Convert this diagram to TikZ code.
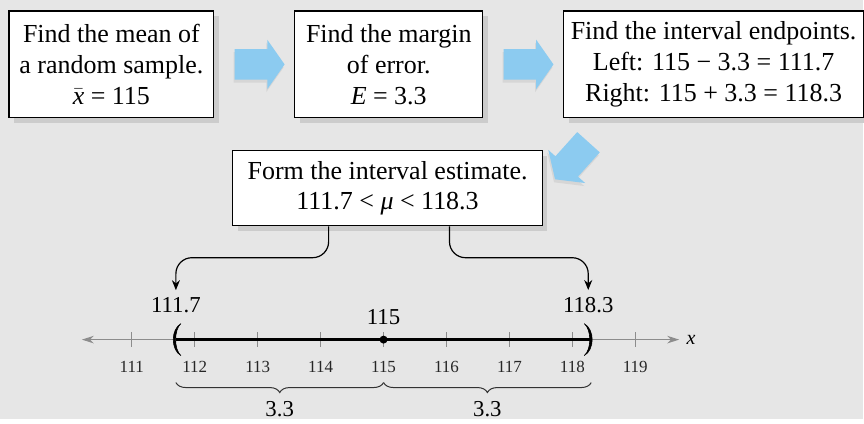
\documentclass[tikz,border=0pt]{standalone}
\usepackage{fontspec}
\setmainfont{Liberation Serif}
\usetikzlibrary{positioning,calc,shapes.arrows,shadows,arrows.meta,decorations.pathreplacing}
\definecolor{arrowblue}{RGB}{140,203,240}
\definecolor{bggray}{RGB}{230,230,230}

\begin{document}
\begin{tikzpicture}[x=0.5pt, y=-0.5pt, every node/.style={font=\fontsize{11.4}{15.5}\selectfont},
    box/.style={draw, fill=white, line width=0.6pt, align=center, inner sep=0pt, font=\fontsize{13}{15.5}\selectfont, drop shadow={shadow xshift=2.5pt, shadow yshift=-2.5pt, fill=black!20, opacity=1}},
    blockarrow/.style={single arrow, fill=arrowblue, inner xsep=0pt, inner ysep=7.4pt, minimum height=25pt, single arrow head extend=4.8pt, single arrow tip angle=110, drop shadow={shadow xshift=-0.5pt, shadow yshift=-1.5pt, fill=black!16, opacity=1}},
    link/.style={-{Stealth[length=5pt, width=4pt]}, line width=0.6pt, rounded corners=8pt},
    axis/.style={{Stealth[length=6pt, width=3.8pt]}-{Stealth[length=6pt, width=3.8pt]}, draw=black!45, line width=0.6pt},
    tick/.style={draw=black!45, line width=0.6pt},
    ticklab/.style={font=\fontsize{8.5}{10}\selectfont, text=black!85},
    paren/.style={fill, draw, line width=0.3pt},
    brace/.style={decorate, decoration={brace, mirror, amplitude=5pt}, draw=black!80, line width=0.5pt}]
  \fill[bggray] (0,0) rectangle (864,419);
  % steps
  \node[box, minimum width=102.5pt, minimum height=53.5pt] (mean) at (111.5,64.5) {Find the mean of\\a random sample.\\\(\bar{\mbox{\textit{x}}}\) = 115};
  \node[box, minimum width=94pt, minimum height=53.5pt, right=40pt of mean] (margin) {Find the margin\\of error.\\\textit{E} = 3.3};
  \node[box, minimum width=150pt, minimum height=53.5pt, right=40pt of margin] (ends) {Find the interval endpoints.\\Left: 115 − 3.3 = 111.7\\Right: 115 + 3.3 = 118.3};
  \node[box, minimum width=155pt, minimum height=37.5pt, font=\fontsize{13}{15}\selectfont] (estimate) at (388,188.5) {Form the interval estimate.\\111.7 < \textit{μ} < 118.3};
  \node[blockarrow] (a1) at ($(mean.east)!0.5!(margin.west)$) {};
  \node[blockarrow] (a2) at ($(margin.east)!0.5!(ends.west)$) {};
  \node[blockarrow, rotate=-132] (a3) at (576,157) {};
  % number line
  \begin{scope}[shift={(-6861,340)}, x=31.5pt]
    \coordinate (axl) at (110.206,0);
    \coordinate (axr) at (119.698,0);
    \coordinate (pl) at (111.7,0);
    \coordinate (pr) at (118.3,0);
    \draw[axis] (axl) -- (axr);
    \foreach \v in {111,...,119} {
      \draw[tick] (\v,-7.5) -- (\v,7.5);
      \node[ticklab] (t\v) at (\v,27) {\v};
    }
    \draw[line width=1.8pt] (pl) -- (pr);
    \draw[paren] ($(pl)+(2.5pt,8pt)$) .. controls ($(pl)+(-2.6pt,5pt)$) and ($(pl)+(-2.6pt,-5pt)$) .. ($(pl)+(2.5pt,-8pt)$)
      .. controls ($(pl)+(-1pt,-5pt)$) and ($(pl)+(-1pt,5pt)$) .. cycle;
    \draw[paren] ($(pr)+(-3.5pt,8pt)$) .. controls ($(pr)+(1.8pt,5pt)$) and ($(pr)+(1.8pt,-5pt)$) .. ($(pr)+(-3.5pt,-8pt)$)
      .. controls ($(pr)+(0.2pt,-5pt)$) and ($(pr)+(0.2pt,5pt)$) .. cycle;
    \node[circle, fill, inner sep=0pt, minimum size=4pt] (m) at (115,0) {};
    \draw[brace] (111.7,43) -- (115,43) node[midway, below=6pt] (w1) {3.3};
    \draw[brace] (115,43) -- (118.3,43) node[midway, below=6pt] (w2) {3.3};
  \end{scope}
  \node[inner sep=0pt, font=\fontsize{10}{12}\selectfont\itshape, right=3.5pt of axr] (xl) {x};
  \node[above=10pt of pl] (lolab) {111.7};
  \node[above=1.5pt of m] (midlab) {115};
  \node[above=10pt of pr, xshift=-1.5pt] (hilab) {118.3};
  % links to the endpoints
  \coordinate (bend) at (0,258);
  \draw[link] ([xshift=-29.5pt]estimate.south) |- (bend -| lolab.north) -- (lolab.north);
  \draw[link] ([xshift=31pt]estimate.south) |- (bend -| hilab.north) -- (hilab.north);
\end{tikzpicture}
\end{document}
